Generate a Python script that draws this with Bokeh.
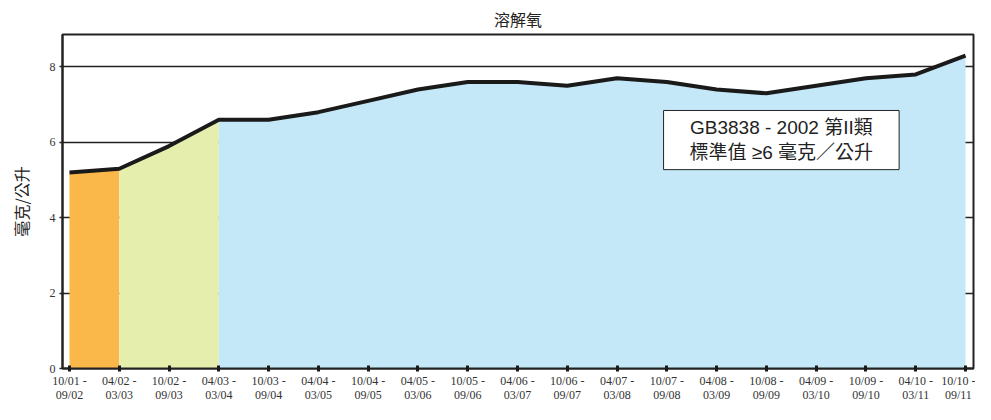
from bokeh.plotting import figure
from bokeh.models import Range1d, FixedTicker, Label
from bokeh.embed import file_html
from bokeh.resources import INLINE

periods = ["10/01 -\n09/02", "04/02 -\n03/03", "10/02 -\n09/03", "04/03 -\n03/04",
           "10/03 -\n09/04", "04/04 -\n03/05", "10/04 -\n09/05", "04/05 -\n03/06",
           "10/05 -\n09/06", "04/06 -\n03/07", "10/06 -\n09/07", "04/07 -\n03/08",
           "10/07 -\n09/08", "04/08 -\n03/09", "10/08 -\n09/09", "04/09 -\n03/10",
           "10/09 -\n09/10", "04/10 -\n03/11", "10/10 -\n09/11"]
do_values = [5.2, 5.3, 5.9, 6.6, 6.6, 6.8, 7.1, 7.4, 7.6, 7.6, 7.5, 7.7, 7.6, 7.4, 7.3, 7.5, 7.7, 7.8, 8.3]
# shaded phases: (first index, last index, colour)
phases = [(0, 1, "#FBB84A"), (1, 3, "#E6EEAE"), (3, 18, "#C5E8F8")]
y_ticks = [0, 2, 4, 6, 8]
title_text = "溶解氧"
y_label = "毫克/公升"
note_text = "GB3838 - 2002 第II類\n標準值 ≥6 毫克／公升"

xs = list(range(len(periods)))

p = figure(width=975, height=404, output_backend="svg", toolbar_location=None,
           x_range=Range1d(-0.14, 18.16), y_range=Range1d(0, 8.86),
           min_border_left=62, min_border_right=2, min_border_top=34, min_border_bottom=36)

p.title.text = title_text
p.title.align = "center"
p.title.text_font = "Noto Sans CJK TC"
p.title.text_font_size = "16px"
p.title.text_font_style = "normal"
p.title.text_color = "#222222"
p.title.offset = 0
p.title.standoff = 7

for a, b, col in phases:
    seg_x = xs[a:b + 1]
    seg_y = do_values[a:b + 1]
    p.varea(x=seg_x, y1=[0] * len(seg_x), y2=seg_y, fill_color=col, fill_alpha=1.0)

p.line(xs, do_values, line_color="#1a1a1a", line_width=4)

p.xgrid.visible = False
p.ygrid.ticker = FixedTicker(ticks=y_ticks)
p.ygrid.grid_line_color = "#222222"
p.ygrid.grid_line_width = 1.5
p.ygrid.level = "underlay"

p.outline_line_color = "#222222"
p.outline_line_width = 2
p.outline_line_alpha = 1.0

p.xaxis.ticker = FixedTicker(ticks=xs)
p.xaxis.axis_label = None
p.xaxis.major_label_overrides = {i: s for i, s in enumerate(periods)}
p.xaxis.major_label_text_font = "Liberation Serif"
p.xaxis.major_label_text_font_size = "12px"
p.xaxis.major_label_text_line_height = 1.0
p.xaxis.major_label_text_color = "#333333"
p.xaxis.major_label_standoff = 2
p.xaxis.major_tick_in = 3
p.xaxis.major_tick_out = 3
p.xaxis.major_tick_line_width = 3
p.xaxis.major_tick_line_color = "#1a1a1a"
p.xaxis.minor_tick_line_color = None
p.xaxis.axis_line_width = 2
p.xaxis.axis_line_color = "#222222"

p.yaxis.ticker = FixedTicker(ticks=y_ticks)
p.yaxis.major_label_text_font = "Liberation Serif"
p.yaxis.major_label_text_font_size = "12px"
p.yaxis.major_label_text_color = "#333333"
p.yaxis.major_label_standoff = 4
p.yaxis.major_tick_in = 0
p.yaxis.major_tick_out = 3
p.yaxis.major_tick_line_width = 1.5
p.yaxis.major_tick_line_color = "#222222"
p.yaxis.minor_tick_line_color = None
p.yaxis.axis_line_width = 2
p.yaxis.axis_line_color = "#222222"
p.yaxis.axis_label = y_label
p.yaxis.axis_label_text_font = "Noto Sans CJK TC"
p.yaxis.axis_label_text_font_size = "16px"
p.yaxis.axis_label_text_font_style = "normal"
p.yaxis.axis_label_text_color = "#222222"
p.yaxis.axis_label_standoff = 14

note = Label(x=14.3, y=6.06, text=note_text, text_align="center", text_baseline="middle",
             text_font="'Liberation Sans', 'Noto Sans CJK TC', sans-serif", text_font_size="19px",
             text_color="#222222", text_line_height=1.15,
             background_fill_color="white", border_line_color="#222222", border_line_width=1,
             padding=(26, 7))
p.add_layout(note)

open("out.html", "w").write(file_html(p, INLINE))
